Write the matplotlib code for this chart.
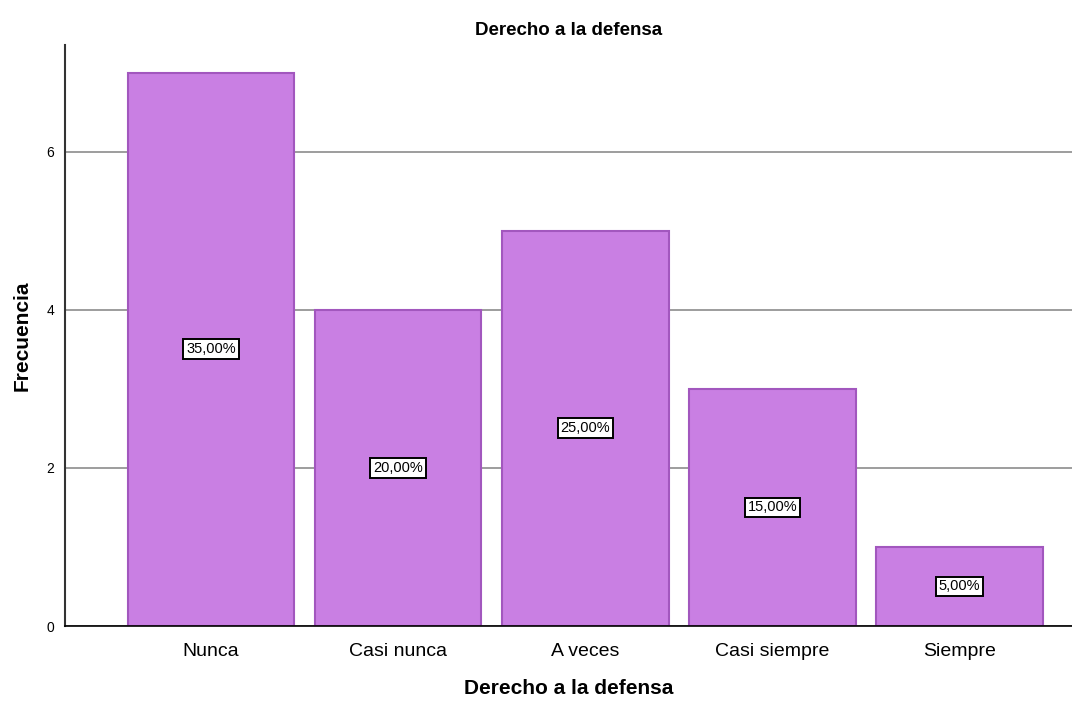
import matplotlib.pyplot as plt

categories = ['Nunca', 'Casi nunca', 'A veces', 'Casi siempre', 'Siempre']
counts = [7, 4, 5, 3, 1]
percent_labels = ['35,00%', '20,00%', '25,00%', '15,00%', '5,00%']
yticks = [0, 2, 4, 6]

plt.rcParams['font.family'] = ['Arial', 'Liberation Sans', 'DejaVu Sans']

fig = plt.figure(figsize=(10.72, 7.06), dpi=100)
ax = fig.add_axes([65 / 1072, 1 - 626 / 706, 1 - 65 / 1072, 581 / 706])

x = range(len(categories))
ax.bar(x, counts, width=0.89, color='#C97FE3', edgecolor='#A257BE', linewidth=1.5, zorder=2)

for i, (c, lab) in enumerate(zip(counts, percent_labels)):
    ax.text(i, c / 2, lab, ha='center', va='center', fontsize=10.5, zorder=3,
            bbox=dict(boxstyle='square,pad=0.2', facecolor='white', edgecolor='black', linewidth=1.4))

ax.set_xlim(-0.78, 4.6)
ax.set_ylim(0, 7.35)
ax.set_yticks(yticks)
ax.set_yticklabels([str(t) for t in yticks], fontsize=10)
ax.set_xticks(list(x))
ax.set_xticklabels(categories, fontsize=14)
ax.tick_params(axis='both', length=0)
ax.tick_params(axis='x', pad=12)
ax.tick_params(axis='y', pad=8)
ax.yaxis.grid(True, color='#8c8c8c', linewidth=1.2, zorder=1)

for side in ['top', 'right']:
    ax.spines[side].set_visible(False)
ax.spines['left'].set_linewidth(1.5)
ax.spines['left'].set_color('#333333')
ax.spines['bottom'].set_linewidth(1.2)

ax.set_title('Derecho a la defensa', fontsize=13.5, fontweight='bold', pad=7)
ax.set_xlabel('Derecho a la defensa', fontsize=15, fontweight='bold', labelpad=14)
ax.set_ylabel('Frecuencia', fontsize=15, fontweight='bold', labelpad=10)

fig.savefig('out.png', dpi=100)
